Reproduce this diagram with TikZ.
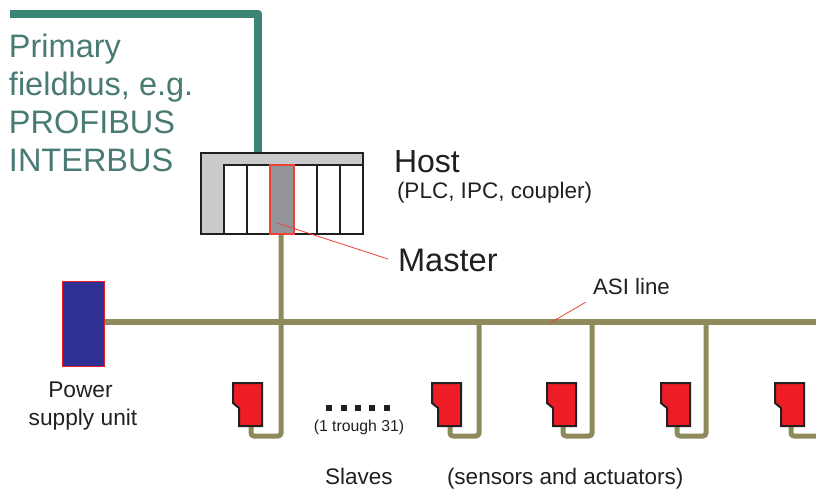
\documentclass[tikz,border=0pt]{standalone}
\usepackage{fontspec}
\setmainfont{Liberation Sans}
\definecolor{busteal}{HTML}{3C8575}
\definecolor{fieldtext}{HTML}{4A7A74}
\definecolor{asiolive}{HTML}{8F8A5C}
\definecolor{slavered}{HTML}{EE1C25}
\definecolor{leaderred}{HTML}{EF4136}
\definecolor{psublue}{HTML}{2E3191}
\definecolor{hostgray}{HTML}{C8CACB}
\definecolor{mastergray}{HTML}{939598}
\definecolor{inkblack}{HTML}{231F20}
\newcommand{\fsz}[1]{\fontsize{#1}{#1}\selectfont}
\newcommand{\slavebody}[2]{%
  \draw[slavebox] (#1,#2+383) -- (#1+29,#2+383) -- (#1+29,#2+426) -- (#1+6,#2+426) -- (#1+6,#2+408) -- (#1,#2+403) -- cycle;}
\tikzset{
  x=1pt,y=-1pt,
  lbl/.style={anchor=base west,inner sep=0pt,outer sep=0pt,text=inkblack},
  lblc/.style={anchor=base,inner sep=0pt,outer sep=0pt,text=inkblack},
  fieldlbl/.style={anchor=base west,inner sep=0pt,outer sep=0pt,text=fieldtext,font=\fsz{32.5}},
  fieldbus/.style={draw=busteal,line width=8.5pt,line join=round},
  asibus/.style={draw=asiolive,line width=5.5pt},
  asidrop/.style={draw=asiolive,line width=5pt,rounded corners=3pt},
  slavebox/.style={draw=inkblack,fill=slavered,line width=2pt,line join=miter},
  slot/.style={draw=inkblack,fill=white,line width=1.2pt},
  leader/.style={draw=leaderred,line width=0.8pt},
  dot/.style={fill=inkblack,draw=none,minimum width=6pt,minimum height=6pt,inner sep=0pt,outer sep=0pt},
}
\begin{document}
\begin{tikzpicture}
\useasboundingbox (0,0) rectangle (816,489);
% named points
\coordinate (fbstart) at (10,14);
\coordinate (fbcorner) at (258,14);
\coordinate (hosttop) at (258,154);
\coordinate (busL) at (104,322);
\coordinate (busR) at (816,322);
\coordinate (t0) at (281,322);
\coordinate (t1) at (479,322);
\coordinate (t2) at (592,322);
\coordinate (t3) at (706,322);
\coordinate (hostbot) at (281,234);
% primary fieldbus
\draw[fieldbus] (fbstart) -- (fbcorner) -- (hosttop);
% ASI line
\draw[asibus] (busL) -- (busR);
\draw[asidrop] (hostbot) -- (t0) -- (281,436) -- (251,436) -- (251,424);
\draw[asidrop] (t1) -- (479,436) -- (450,436) -- (450,424);
\draw[asidrop] (t2) -- (592,436) -- (563,436) -- (563,424);
\draw[asidrop] (t3) -- (706,436) -- (677,436) -- (677,424);
\draw[asidrop] (816,436) -- (791,436) -- (791,424);
% host
\path[fill=hostgray,draw=inkblack,line width=1.8pt] (201,153) rectangle (363,234);
\foreach \a/\b in {224/247,247/270,294/317,317/340,340/363}
  \path[slot] (\a,165) rectangle (\b,234);
\draw[inkblack,line width=1.8pt] (224,165) -- (363,165) (201,234) -- (224,234) -- (224,165) (201,153) rectangle (363,234);
\path[fill=mastergray,draw=leaderred,line width=1.5pt] (270,165) rectangle (294,234);
% power
\path[fill=psublue,draw=slavered,line width=1.4pt] (62.5,281.5) rectangle (104.5,366.5);
% slaves
\slavebody{233}{0}
\slavebody{432}{0}
\slavebody{547}{0}
\slavebody{661}{0}
\slavebody{775}{0}
% dots
\node[dot] (d1) at (329,408) {};
\node[dot] (d2) at (344,408) {};
\node[dot] (d3) at (358,408) {};
\node[dot] (d4) at (372,408) {};
\node[dot] (d5) at (387,408) {};
% leaders
\coordinate (mA) at (277,223);
\coordinate (mB) at (388,259);
\coordinate (aA) at (550,323);
\coordinate (aB) at (586,302);
\draw[leader] (mA) -- (mB);
\draw[leader] (aA) -- (aB);
% labels
\node[fieldlbl] (f1) at (9,58) {Primary};
\node[fieldlbl] (f2) at (9,96) {fieldbus, e.g.};
\node[fieldlbl] (f3) at (9,134) {PROFIBUS};
\node[fieldlbl] (f4) at (9,172) {INTERBUS};
\node[lbl,font=\fsz{32}] (host) at (394,173) {Host};
\node[lbl,font=\fsz{22.5}] (hostsub) at (397,198) {(PLC, IPC, coupler)};
\node[lbl,font=\fsz{32.6}] (master) at (398,271) {Master};
\node[lbl,font=\fsz{22.3}] (asi) at (593,294) {ASI line};
\node[lblc,font=\fsz{22.7}] (psu1) at (80.5,397) {Power};
\node[lblc,font=\fsz{22.7}] (psu2) at (83,425) {supply unit};
\node[lblc,font=\fsz{15.8}] (range) at (359,431) {(1 trough 31)};
\node[lbl,font=\fsz{22.5}] (slaves) at (325,484) {Slaves};
\node[lbl,font=\fsz{22.5}] (sa) at (447,484) {(sensors and actuators)};
\end{tikzpicture}
\end{document}
